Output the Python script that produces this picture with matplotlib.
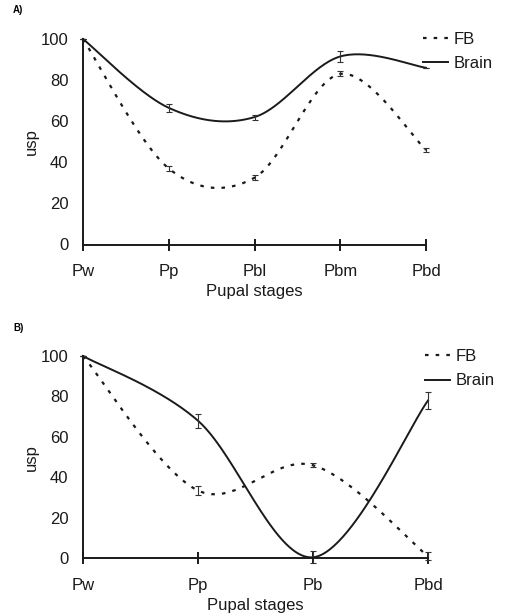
import numpy as np
import matplotlib
matplotlib.use("Agg")
import matplotlib.pyplot as plt

plt.rcParams['font.family'] = ['Liberation Sans', 'DejaVu Sans']

# Panel A data
stages_a = ["Pw", "Pp", "Pbl", "Pbm", "Pbd"]
fb_a = [100, 37, 32.5, 83, 46]
fb_a_err = [0, 1.2, 1.2, 1.2, 1.0]
brain_a = [100, 66.5, 62, 91.5, 86]
brain_a_err = [0, 2.0, 1.2, 2.5, 0]

# Panel B data
stages_b = ["Pw", "Pp", "Pb", "Pbd"]
fb_b = [100, 33.5, 46, 1]
fb_b_err = [0, 2.0, 1.0, 2.0]
brain_b = [100, 68, 0.5, 78]
brain_b_err = [0, 3.5, 3.0, 4.0]

yticks = [0, 20, 40, 60, 80, 100]


def smooth(y, n=60):
    """Excel-like smoothed line (Bezier through points)."""
    x = np.arange(len(y), dtype=float)
    y = np.asarray(y, dtype=float)
    pts = np.column_stack([x, y])
    ext = np.vstack([pts[0], pts, pts[-1]])
    out = []
    t = np.linspace(0, 1, n)[:, None]
    for i in range(len(pts) - 1):
        p0 = pts[i]
        p3 = pts[i + 1]
        p1 = p0 + (ext[i + 2] - ext[i]) / 6.0
        p2 = p3 - (ext[i + 3] - ext[i + 1]) / 6.0
        seg = ((1 - t) ** 3) * p0 + 3 * ((1 - t) ** 2) * t * p1 + 3 * (1 - t) * t ** 2 * p2 + t ** 3 * p3
        out.append(seg if i == 0 else seg[1:])
    c = np.vstack(out)
    return c[:, 0], c[:, 1]


fig = plt.figure(figsize=(5.05, 6.16), dpi=100)
ax_a = fig.add_axes([83 / 505, 1 - 244.5 / 616, 343 / 505, 205.5 / 616])
ax_b = fig.add_axes([83 / 505, 1 - 558.3 / 616, 345 / 505, 202.3 / 616])

for ax, stages, fb, fbe, br, bre in [
    (ax_a, stages_a, fb_a, fb_a_err, brain_a, brain_a_err),
    (ax_b, stages_b, fb_b, fb_b_err, brain_b, brain_b_err),
]:
    x = np.arange(len(stages))
    xs, ys = smooth(fb)
    ax.plot(xs, ys, color='#1a1a1a', lw=1.6, ls=(0, (1.6, 3.2)), label='FB', clip_on=False)
    xs, ys = smooth(br)
    ax.plot(xs, ys, color='#1a1a1a', lw=1.4, ls='-', label='Brain', clip_on=False)
    ax.errorbar(x, fb, yerr=fbe, fmt='none', ecolor='#333333', elinewidth=0.8, capsize=2.5, capthick=0.8, clip_on=False)
    ax.errorbar(x, br, yerr=bre, fmt='none', ecolor='#333333', elinewidth=0.8, capsize=2.5, capthick=0.8, clip_on=False)

    ax.set_xlim(0, len(stages) - 1)
    ax.set_ylim(0, 100)
    ax.set_xticks(x)
    ax.set_xticklabels(stages)
    ax.set_yticks(yticks)
    for s in ['top', 'right']:
        ax.spines[s].set_visible(False)
    for s in ['left', 'bottom']:
        ax.spines[s].set_linewidth(1.4)
        ax.spines[s].set_color('#1a1a1a')
    ax.tick_params(axis='y', length=0, pad=10.5, labelsize=12, colors='#1a1a1a')
    ax.tick_params(axis='x', direction='inout', length=8.5, width=1.4, pad=10, labelsize=12, colors='#1a1a1a')
    ax.set_xlabel('Pupal stages', fontsize=12, labelpad=3.2, color='#1a1a1a')
    ax.set_ylabel('usp', fontsize=12, labelpad=1, color='#1a1a1a')
    leg = ax.legend(loc='upper left', bbox_to_anchor=(0.99, 1.035), frameon=False, fontsize=12,
                    borderaxespad=0, borderpad=0, handlelength=1.55, handletextpad=0.3,
                    labelspacing=0.57)
    for t in leg.get_texts():
        t.set_color('#1a1a1a')

fig.text(13 / 505, 1 - 10 / 616, 'A)', fontsize=7, fontweight='bold', va='center', ha='left')
fig.text(13 / 505, 1 - 328 / 616, 'B)', fontsize=7, fontweight='bold', va='center', ha='left')

fig.savefig('out.png', dpi=100)
